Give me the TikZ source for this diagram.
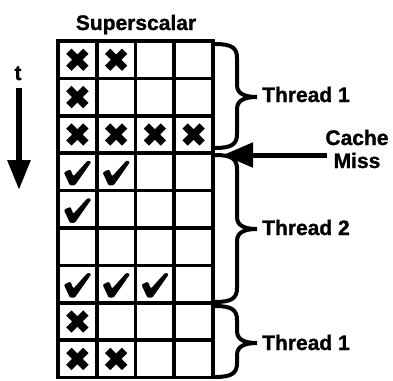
\documentclass[tikz,border=0pt]{standalone}
\usepackage{fontspec}
\setmainfont{Liberation Sans}
\newfontfamily\lblfont[BoldFeatures={FakeBold=1.2}]{Liberation Sans}
\usetikzlibrary{arrows.meta}
\tikzset{
  gridline/.style={line width=3.6pt, line cap=rect},
  lbl/.style={font=\lblfont\fontsize{21}{24}\selectfont\bfseries, inner sep=0pt},
  brc/.style={line width=4pt, line cap=round},
  bigarrow/.style={line width=#1, -{Triangle[length=30pt,width=24pt]}},
  xm/.pic={\draw[line width=7.5pt] (-8.5,-8.5)--(8.5,8.5) (-8.5,8.5)--(8.5,-8.5);},
  ck/.pic={\fill[rounded corners=1.2pt] (-13.5,-0.5) -- (-7,-3.5) -- (-4,3.5) -- (10.5,-12.5) -- (14,-11) -- (-2.5,12.5) -- (-7.5,12.5) -- cycle;},
}
\newcommand\mybrace[3]{%
  \draw[brc] (215,#1) .. controls (232,#1) and (237,#1+4) .. (237,#1+14)
    -- (237,#3-12) .. controls (237,#3-3) and (245,#3) .. (257,#3)
    .. controls (245,#3) and (237,#3+3) .. (237,#3+12)
    -- (237,#2-14) .. controls (237,#2-4) and (232,#2) .. (215,#2);}
\begin{document}
\begin{tikzpicture}[x=1pt,y=-1pt]
\useasboundingbox (0,0) rectangle (393,380);
% grid
\foreach \i in {0,...,4} {\draw[gridline] (58+38.75*\i,41) -- (58+38.75*\i,377.6);}
\foreach \j in {0,...,9} {\draw[gridline] (58,41+37.4*\j) -- (213,41+37.4*\j);}
% crosses
\foreach \c/\r in {1/1,2/1,1/2,1/3,2/3,3/3,4/3,1/8,1/9,2/9}
  {\pic at (58+38.75*\c-19.375, 41+37.4*\r-18.7) {xm};}
% checks
\foreach \c/\r in {1/4,2/4,1/5,1/7,2/7,3/7}
  {\pic at (58+38.75*\c-19.375, 41+37.4*\r-17.7) {ck};}
% labels
\node[lbl, anchor=base] (title) at (136,30) {Superscalar};
\node[lbl, anchor=base] (tlabel) at (18,80) {t};
\node[lbl, anchor=base west] (th1) at (262,102) {Thread 1};
\node[lbl, anchor=base west] (th2) at (262,235) {Thread 2};
\node[lbl, anchor=base west] (th3) at (262,350) {Thread 1};
\node[lbl, anchor=base] (cache) at (357,145) {Cache};
\node[lbl, anchor=base] (miss) at (357,168) {Miss};
% braces
\mybrace{44}{148}{97}
\mybrace{155}{302}{229}
\mybrace{306}{377}{343}
% arrows
\coordinate (tStart) at (19,88);
\coordinate (tEnd) at (19,190);
\draw[line width=6pt, -{Triangle[length=30pt,width=22pt]}] (tStart) -- (tEnd);
\coordinate (cmStart) at (327,155);
\coordinate (cmEnd) at (223,155);
\draw[bigarrow=5pt] (cmStart) -- (cmEnd);
\end{tikzpicture}
\end{document}
